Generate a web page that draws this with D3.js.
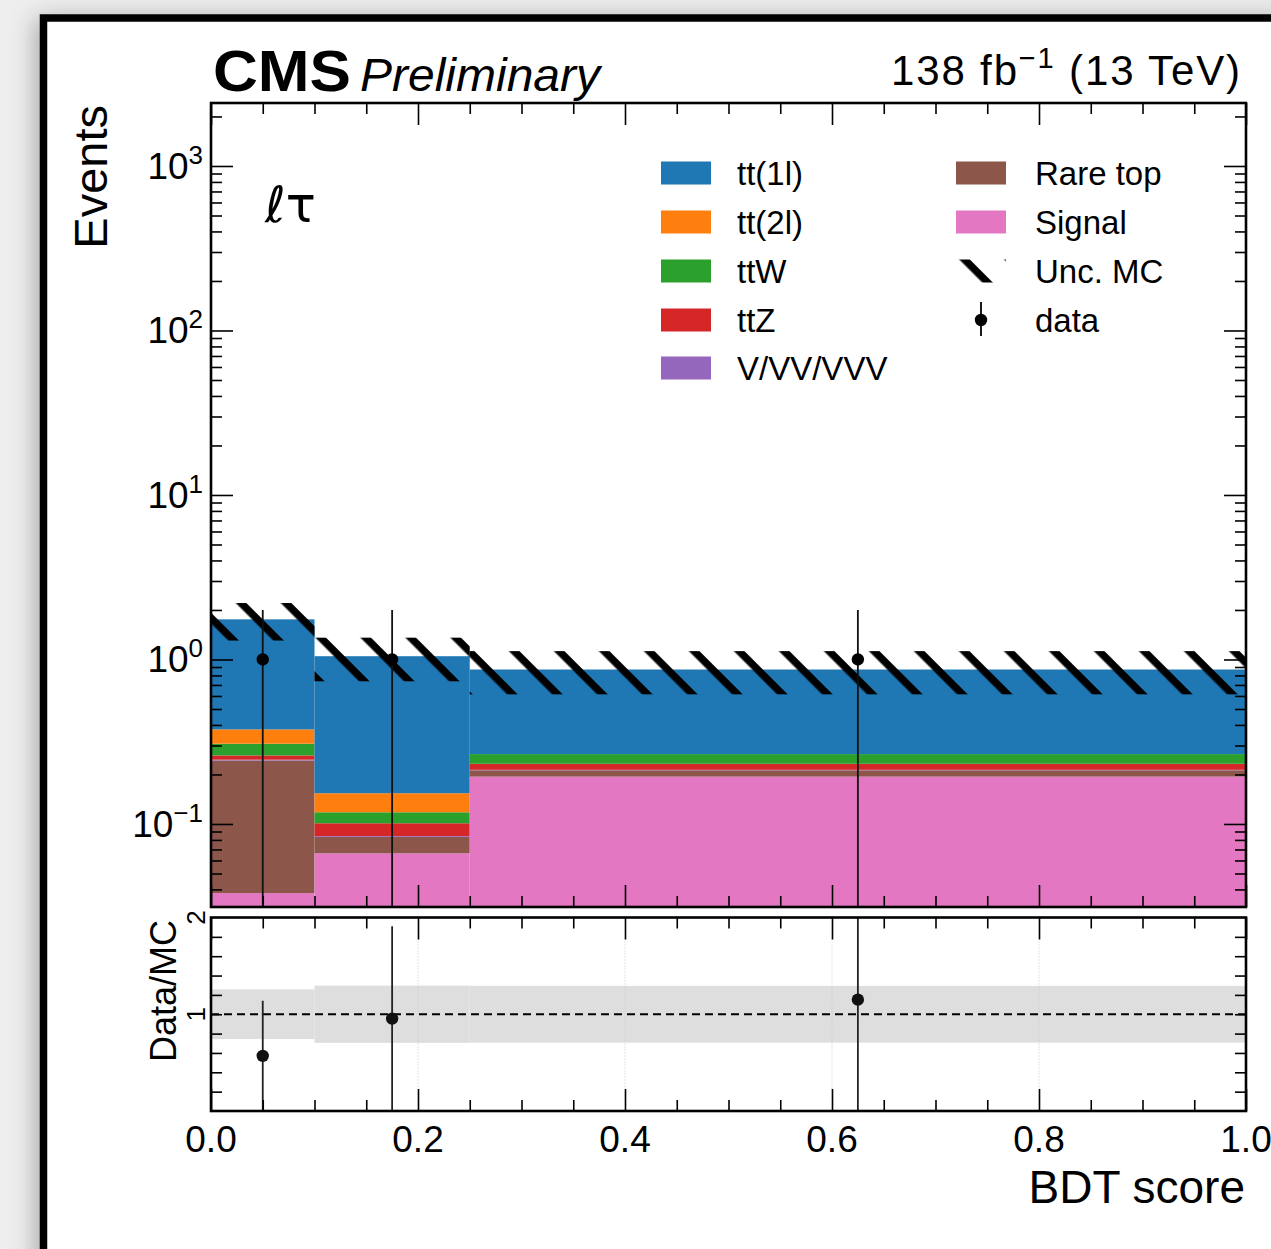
<!DOCTYPE html>
<html>
<head>
<meta charset="utf-8">
<title>BDT score lt</title>
<style>
body { margin: 0; background: #eeeeee; }
text { font-family: 'Liberation Sans', Arial, sans-serif; fill: black; }
.axis path { display: none; }
.axis line { stroke: black; stroke-width: 1.6px; }
.frame { fill: none; stroke: black; stroke-width: 2.6px; }
</style>
</head>
<body>
<svg width="1271" height="1249"></svg>
<script src="https://d3js.org/d3.v7.min.js"></script>
<script>
// bins of the BDT score
var binEdges = [0.0, 0.1, 0.25, 1.0];
// stacked MC, events per bin
var signal  = [0.038, 0.0663, 0.194];
var rareTop = [0.205, 0.0172, 0.018];
var vvv     = [0.003, 0.001, 0.0014];
var ttZ     = [0.015, 0.0165, 0.0188];
var ttW     = [0.0466, 0.0168, 0.0338];
var tt2l    = [0.068, 0.036, 0.0];
var tt1l    = [1.378, 0.893, 0.603];
var mcUnc   = [0.45, 0.31, 0.255];
// observed
var dataCounts = [1, 1, 1];
var dataErr    = [1, 1, 1];
// tick labels
var xTicks = [0.0, 0.2, 0.4, 0.6, 0.8, 1.0];
var yDecades = [-1, 0, 1, 2, 3];
var ratioTicks = [1, 2];

// bottom to top of the stack
var stack = [
  {name: "Signal",    values: signal,  color: "#e377c2"},
  {name: "Rare top",  values: rareTop, color: "#8c564b"},
  {name: "V/VV/VVV",  values: vvv,     color: "#9467bd"},
  {name: "ttZ",       values: ttZ,     color: "#d62728"},
  {name: "ttW",       values: ttW,     color: "#2ca02c"},
  {name: "tt(2l)",    values: tt2l,    color: "#ff7f0e"},
  {name: "tt(1l)",    values: tt1l,    color: "#1f77b4"}
];

var svg = d3.select("svg");
// note: "top" is taken by window.top, so plain names are avoided
var pLeft = 211, pRight = 1246, pTop = 103, pBottom = 907;
var rTop = 917.5, rBottom = 1111;

var x = d3.scaleLinear().domain([0, 1]).range([pLeft, pRight]);
var y = d3.scaleLog().domain([0.03128, 2415]).range([pBottom, pTop]).clamp(true);
var yr = d3.scaleLinear().domain([0, 2]).range([rBottom, rTop]);

var defs = svg.append("defs");
var f = defs.append("filter").attr("id", "shadow").attr("x", "-10%").attr("y", "-10%").attr("width", "130%").attr("height", "130%");
f.append("feDropShadow").attr("dx", -4).attr("dy", 4).attr("stdDeviation", 12)
  .attr("flood-color", "#000").attr("flood-opacity", 0.3);

function hatch(id, shift) {
  var p = defs.append("pattern").attr("id", id)
    .attr("patternUnits", "userSpaceOnUse")
    .attr("width", 10).attr("height", 31.82)
    .attr("patternTransform", "rotate(45) translate(0," + shift + ")");
  p.append("rect").attr("x", 0).attr("y", 0).attr("width", 10).attr("height", 7.5).attr("fill", "black");
}
hatch("hatch", -2.4);
hatch("hatchLeg", 6.8);

defs.append("clipPath").attr("id", "clipMain").append("rect")
  .attr("x", pLeft).attr("y", pTop).attr("width", pRight - pLeft).attr("height", pBottom - pTop);
defs.append("clipPath").attr("id", "clipRatio").append("rect")
  .attr("x", pLeft).attr("y", rTop).attr("width", pRight - pLeft).attr("height", rBottom - rTop);

// outer frame
svg.append("rect").attr("x", 43.5).attr("y", 18).attr("width", 1400).attr("height", 1400)
  .attr("fill", "white").attr("stroke", "black").attr("stroke-width", 7.5)
  .attr("filter", "url(#shadow)");

var bins = d3.range(binEdges.length - 1);
var total = bins.map(function(i) { return d3.sum(stack, function(s) { return s.values[i]; }); });

// stacked histogram
var main = svg.append("g").attr("clip-path", "url(#clipMain)");
bins.forEach(function(i) {
  var base = 0;
  stack.forEach(function(s) {
    var lo = base, hi = base + s.values[i];
    base = hi;
    if (s.values[i] <= 0) return;
    main.append("rect")
      .attr("x", x(binEdges[i])).attr("width", x(binEdges[i + 1]) - x(binEdges[i]))
      .attr("y", y(hi)).attr("height", (lo > 0 ? y(lo) : pBottom) - y(hi))
      .attr("fill", s.color);
  });
});

// MC uncertainty
main.selectAll(".unc").data(bins).enter().append("rect")
  .attr("x", function(i) { return x(binEdges[i]); })
  .attr("width", function(i) { return x(binEdges[i + 1]) - x(binEdges[i]); })
  .attr("y", function(i) { return y(total[i] + mcUnc[i]); })
  .attr("height", function(i) { return y(total[i] - mcUnc[i]) - y(total[i] + mcUnc[i]); })
  .attr("fill", "url(#hatch)");

// data
function centre(i) { return x((binEdges[i] + binEdges[i + 1]) / 2); }
main.selectAll(".err").data(bins).enter().append("line")
  .attr("x1", centre).attr("x2", centre)
  .attr("y1", function(i) { return y(dataCounts[i] + dataErr[i]); })
  .attr("y2", function(i) { return dataCounts[i] - dataErr[i] > 0 ? y(dataCounts[i] - dataErr[i]) : pBottom + 5; })
  .attr("stroke", "#111").attr("stroke-width", 1.8);
main.selectAll(".pt").data(bins).enter().append("circle")
  .attr("cx", centre).attr("cy", function(i) { return y(dataCounts[i]); })
  .attr("r", 6.2).attr("fill", "black");

// ratio panel
var ratio = svg.append("g").attr("clip-path", "url(#clipRatio)");
ratio.selectAll(".band").data(bins).enter().append("rect")
  .attr("x", function(i) { return x(binEdges[i]); })
  .attr("width", function(i) { return x(binEdges[i + 1]) - x(binEdges[i]); })
  .attr("y", function(i) { return yr(1 + mcUnc[i] / total[i]); })
  .attr("height", function(i) { return yr(1 - mcUnc[i] / total[i]) - yr(1 + mcUnc[i] / total[i]); })
  .attr("fill", "#dedede");
ratio.selectAll(".grid").data([0.2, 0.4, 0.6, 0.8]).enter().append("line")
  .attr("x1", x).attr("x2", x).attr("y1", rTop).attr("y2", rBottom)
  .attr("stroke", "#c8c8c8").attr("stroke-width", 1).attr("stroke-dasharray", "1,2");
ratio.append("line").attr("x1", pLeft).attr("x2", pRight).attr("y1", yr(1)).attr("y2", yr(1))
  .attr("stroke", "black").attr("stroke-width", 2).attr("stroke-dasharray", "8,5");
ratio.selectAll(".rerr").data(bins).enter().append("line")
  .attr("x1", centre).attr("x2", centre)
  .attr("y1", function(i) { return yr((dataCounts[i] + dataErr[i]) / total[i]); })
  .attr("y2", function(i) { return yr((dataCounts[i] - dataErr[i]) / total[i]); })
  .attr("stroke", "#222").attr("stroke-width", 1.8);
ratio.selectAll(".rpt").data(bins).enter().append("circle")
  .attr("cx", centre).attr("cy", function(i) { return yr(dataCounts[i] / total[i]); })
  .attr("r", 6.2).attr("fill", "#111");

// ticks, all pointing inward
var xMinor = d3.range(0, 1.0001, 0.05).filter(function(v) { return xTicks.indexOf(Math.round(v * 100) / 100) < 0; });
function xAxes(yPos, dir) {
  svg.append("g").attr("class", "axis").attr("transform", "translate(0," + yPos + ")")
    .call(d3.axisBottom(x).tickValues(xTicks).tickSize(-22 * dir).tickFormat(""));
  svg.append("g").attr("class", "axis").attr("transform", "translate(0," + yPos + ")")
    .call(d3.axisBottom(x).tickValues(xMinor).tickSize(-11 * dir).tickFormat(""));
}
xAxes(pBottom, 1); xAxes(pTop, -1); xAxes(rBottom, 1); xAxes(rTop, -1);

var yMajor = yDecades.map(function(d) { return Math.pow(10, d); });
var yMinor = [];
d3.range(-2, 4).forEach(function(d) {
  d3.range(2, 10).forEach(function(m) {
    var v = m * Math.pow(10, d);
    if (v > y.domain()[0] && v < y.domain()[1]) yMinor.push(v);
  });
});
[[pLeft, 1], [pRight, -1]].forEach(function(a) {
  svg.append("g").attr("class", "axis").attr("transform", "translate(" + a[0] + ",0)")
    .call(d3.axisLeft(y).tickValues(yMajor).tickSize(-22 * a[1]).tickFormat(""));
  svg.append("g").attr("class", "axis").attr("transform", "translate(" + a[0] + ",0)")
    .call(d3.axisLeft(y).tickValues(yMinor).tickSize(-11 * a[1]).tickFormat(""));
  svg.append("g").attr("class", "axis").attr("transform", "translate(" + a[0] + ",0)")
    .call(d3.axisLeft(yr).tickValues(d3.range(0.2, 2, 0.2)).tickSize(-11 * a[1]).tickFormat(""));
});

svg.append("rect").attr("class", "frame").attr("x", pLeft).attr("y", pTop).attr("width", pRight - pLeft).attr("height", pBottom - pTop);
svg.append("rect").attr("class", "frame").attr("x", pLeft).attr("y", rTop).attr("width", pRight - pLeft).attr("height", rBottom - rTop);

// tick labels
yDecades.forEach(function(d) {
  var t = svg.append("text").attr("x", 203).attr("y", y(Math.pow(10, d)) + 13)
    .attr("text-anchor", "end").style("font-size", "37px");
  t.append("tspan").text("10");
  t.append("tspan").attr("dy", -15).style("font-size", "26px").text(d < 0 ? "\u2212" + (-d) : d);
});
svg.selectAll(".xl").data(xTicks).enter().append("text")
  .attr("x", x).attr("y", 1152).attr("text-anchor", "middle").style("font-size", "37px")
  .text(function(v) { return v.toFixed(1); });
ratioTicks.forEach(function(v) {
  svg.append("text").attr("transform", "translate(205," + yr(v) + ") rotate(-90)")
    .attr("text-anchor", "middle").style("font-size", "26px").text(v);
});

// axis titles
svg.append("text").attr("transform", "translate(107,105) rotate(-90)")
  .attr("text-anchor", "end").style("font-size", "47px").text("Events");
svg.append("text").attr("transform", "translate(176,920) rotate(-90)")
  .attr("text-anchor", "end").style("font-size", "36px").text("Data/MC");
svg.append("text").attr("x", 1245).attr("y", 1203).attr("text-anchor", "end")
  .style("font-size", "46px").text("BDT score");

// header
svg.append("text").attr("x", 213).attr("y", 91).style("font-size", "58px").style("font-weight", "bold")
  .attr("textLength", 138).attr("lengthAdjust", "spacingAndGlyphs").text("CMS");
svg.append("text").attr("x", 360).attr("y", 91).style("font-size", "46px").style("font-style", "italic")
  .attr("textLength", 240).attr("lengthAdjust", "spacingAndGlyphs").text("Preliminary");
var lumi = svg.append("text").attr("x", 891).attr("y", 85).style("font-size", "42px")
  .attr("textLength", 349).attr("lengthAdjust", "spacing");
lumi.append("tspan").text("138 fb");
lumi.append("tspan").attr("dy", -17).style("font-size", "29px").text("\u22121");
lumi.append("tspan").attr("dy", 17).text(" (13 TeV)");

svg.append("text").attr("x", 265).attr("y", 222).style("font-family", "'DejaVu Sans', sans-serif")
  .style("font-size", "50px").text("\u2113\u03c4");

// legend
var legLeft = ["tt(1l)", "tt(2l)", "ttW", "ttZ", "V/VV/VVV"];
var legRight = ["Rare top", "Signal", "Unc. MC", "data"];
var rowY = [173, 222, 271, 320, 368];
legLeft.forEach(function(name, i) {
  var s = stack.filter(function(d) { return d.name === name; })[0];
  svg.append("rect").attr("x", 661).attr("y", rowY[i] - 11.5).attr("width", 50).attr("height", 23).attr("fill", s.color);
  svg.append("text").attr("x", 737).attr("y", rowY[i] + 12).style("font-size", "33px").text(name);
});
legRight.forEach(function(name, i) {
  var yy = rowY[i];
  if (name === "Unc. MC") {
    svg.append("rect").attr("x", 956).attr("y", yy - 11.5).attr("width", 50).attr("height", 23).attr("fill", "url(#hatchLeg)");
  } else if (name === "data") {
    svg.append("line").attr("x1", 981).attr("x2", 981).attr("y1", yy - 18).attr("y2", yy + 16).attr("stroke", "black").attr("stroke-width", 1.8);
    svg.append("circle").attr("cx", 981).attr("cy", yy).attr("r", 6.2).attr("fill", "black");
  } else {
    var s = stack.filter(function(d) { return d.name === name; })[0];
    svg.append("rect").attr("x", 956).attr("y", yy - 11.5).attr("width", 50).attr("height", 23).attr("fill", s.color);
  }
  svg.append("text").attr("x", 1035).attr("y", yy + 12).style("font-size", "33px").text(name);
});
</script>
</body>
</html>
